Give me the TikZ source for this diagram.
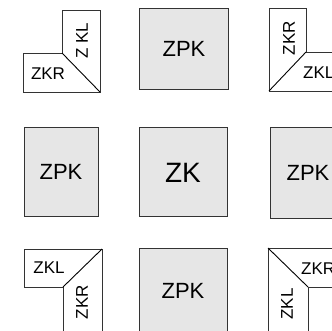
\documentclass[tikz,border=0pt]{standalone}
\usepackage{fontspec}
\setmainfont{Liberation Sans}
\definecolor{boxfill}{HTML}{E6E6E6}
\definecolor{edge}{HTML}{333333}
\tikzset{
  graybox/.style={draw=edge, fill=boxfill, line width=0.9pt},
  whitebox/.style={draw=edge, fill=white, line width=0.9pt},
  diag/.style={draw=black, line width=0.9pt},
  big/.style={inner sep=0pt, font=\fontsize{22}{22}\selectfont},
  huge/.style={inner sep=0pt, font=\fontsize{28}{28}\selectfont},
  small/.style={inner sep=0pt, font=\fontsize{17}{17}\selectfont},
}
\begin{document}
\begin{tikzpicture}[x=1pt,y=-1pt]
\useasboundingbox (0,0) rectangle (332,330);
\clip (0,0) rectangle (332,330);
% gray boxes
\draw[graybox] (139,8) rectangle (228,89);
\draw[graybox] (24,127) rectangle (98,216);
\draw[graybox] (139,127) rectangle (227,216);
\draw[graybox] (270,127) rectangle (345,218);
\draw[graybox] (139,248) rectangle (227,345);
\node[big] (zpkT) at (184,49) {ZPK};
\node[big] (zpkL) at (61,172) {ZPK};
\node[huge] (zk) at (183,173) {ZK};
\node[big] (zpkR) at (308,173) {ZPK};
\node[big] (zpkB) at (183,291) {ZPK};
% top-left corner
\draw[whitebox] (23,53) -- (62,53) -- (62,10) -- (100,10) -- (100,92) -- (23,92) -- cycle;
\draw[diag] (62,53) -- (100,92);
\node[small] (tlR) at (48,74) {ZKR};
\node[small, rotate=90] (tlL) at (82,41) {Z KL};
% top-right corner
\draw[whitebox] (269,8) -- (306,8) -- (306,52) -- (345,52) -- (345,91) -- (269,91) -- cycle;
\draw[diag] (269,91) -- (306,52);
\node[small, rotate=90] (trR) at (289,38) {ZKR};
\node[small, anchor=west] (trL) at (303,73) {ZKL};
% bottom-left corner
\draw[whitebox] (24,249) -- (102,249) -- (102,345) -- (63,345) -- (63,287) -- (24,287) -- cycle;
\draw[diag] (63,287) -- (102,249);
\node[small] (blL) at (49,268) {ZKL};
\node[small, rotate=90] (blR) at (82,302) {ZKR};
% bottom-right corner
\draw[whitebox] (268,248) -- (345,248) -- (345,287) -- (308,287) -- (308,345) -- (268,345) -- cycle;
\draw[diag] (268,248) -- (308,287);
\node[small, anchor=west] (brR) at (301,269) {ZKR};
\node[small, rotate=90] (brL) at (287,304) {ZKL};
\end{tikzpicture}
\end{document}
